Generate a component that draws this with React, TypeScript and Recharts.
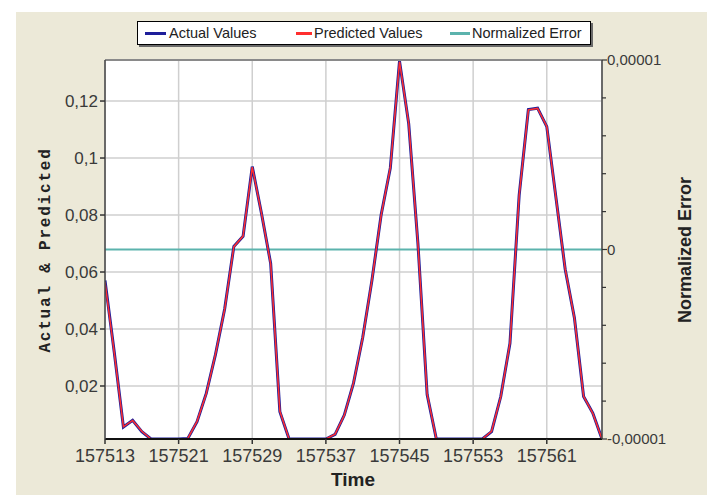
import React from 'react';
import { ComposedChart, Line, XAxis, YAxis, CartesianGrid, Legend, ReferenceLine } from 'recharts';

const timeSteps = [
  157513, 157514, 157515, 157516, 157517, 157518, 157519, 157520, 157521, 157522,
  157523, 157524, 157525, 157526, 157527, 157528, 157529, 157530, 157531, 157532,
  157533, 157534, 157535, 157536, 157537, 157538, 157539, 157540, 157541, 157542,
  157543, 157544, 157545, 157546, 157547, 157548, 157549, 157550, 157551, 157552,
  157553, 157554, 157555, 157556, 157557, 157558, 157559, 157560, 157561, 157562,
  157563, 157564, 157565, 157566, 157567,
];

const actualValues = [
  0.057, 0.032, 0.0056, 0.008, 0.004, 0.0014, 0.0014, 0.0014, 0.0014, 0.0016,
  0.0075, 0.0174, 0.031, 0.047, 0.069, 0.0725, 0.097, 0.0806, 0.063, 0.011,
  0.0014, 0.0014, 0.0014, 0.0014, 0.0014, 0.003, 0.0098, 0.021, 0.037, 0.057,
  0.08, 0.0965, 0.134, 0.112, 0.07, 0.017, 0.0014, 0.0014, 0.0014, 0.0014,
  0.0014, 0.0014, 0.004, 0.0163, 0.035, 0.087, 0.117, 0.1175, 0.111, 0.086,
  0.061, 0.044, 0.0163, 0.0105, 0.0014,
];

const predictedValues = [
  0.0565, 0.0318, 0.0057, 0.0079, 0.0041, 0.0014, 0.0014, 0.0014, 0.0014, 0.0016,
  0.0076, 0.0173, 0.0311, 0.0469, 0.0689, 0.0726, 0.0968, 0.0807, 0.0629, 0.0111,
  0.0014, 0.0014, 0.0014, 0.0014, 0.0014, 0.0031, 0.0097, 0.0211, 0.0369, 0.0571,
  0.0799, 0.0966, 0.1338, 0.1121, 0.0699, 0.0171, 0.0014, 0.0014, 0.0014, 0.0014,
  0.0014, 0.0014, 0.0041, 0.0162, 0.0351, 0.0869, 0.1169, 0.1174, 0.1111, 0.0859,
  0.0611, 0.0439, 0.0164, 0.0104, 0.0014,
];

const normalizedError = [
  0, 0, 0, 0, 0, 0, 0, 0, 0, 0,
  0, 0, 0, 0, 0, 0, 0, 0, 0, 0,
  0, 0, 0, 0, 0, 0, 0, 0, 0, 0,
  0, 0, 0, 0, 0, 0, 0, 0, 0, 0,
  0, 0, 0, 0, 0, 0, 0, 0, 0, 0,
  0, 0, 0, 0, 0,
];

const xTicks = [157513, 157521, 157529, 157537, 157545, 157553, 157561];
const leftTicks = [0.02, 0.04, 0.06, 0.08, 0.1, 0.12];
const rightTicks = [
  -0.00001, -0.000008, -0.000006, -0.000004, -0.000002, 0,
  0.000002, 0.000004, 0.000006, 0.000008, 0.00001,
];
const rightMajorTicks = [-0.00001, 0, 0.00001];

const leftDomain: [number, number] = [0.0014, 0.1344];
const rightDomain: [number, number] = [-0.00001, 0.00001];
const xDomain: [number, number] = [157513, 157567];

const seriesNames = ['Actual Values', 'Predicted Values', 'Normalized Error'];
const seriesColors = ['#1e1e9a', '#ff2e2e', '#5cb3ad'];

const data = timeSteps.map((t, i) => ({
  time: t,
  actual: actualValues[i],
  predicted: predictedValues[i],
  error: normalizedError[i],
}));

const fmt = (v: number) => String(v).replace('.', ',');

const FONT = 'Arial, "Liberation Sans", sans-serif';

const LeftTick = (props: any) => {
  const { x, y, payload } = props;
  return (
    <g>
      <line x1={x - 5} x2={x} y1={y} y2={y} stroke="#333" strokeWidth={1.5} />
      <text x={x - 7} y={y} dy="0.36em" textAnchor="end" fontSize={17} fill="#3a3a3a" fontFamily={FONT}>
        {fmt(payload.value)}
      </text>
    </g>
  );
};

const RightTick = (props: any) => {
  const { x, y, payload } = props;
  const major = rightMajorTicks.some((m) => Math.abs(m - payload.value) < 1e-9);
  return (
    <g>
      <line x1={x} x2={x + (major ? 5 : 4)} y1={y} y2={y} stroke="#333" strokeWidth={1.2} />
      {major && (
        <text x={x + 5} y={y} dy="0.36em" textAnchor="start" fontSize={15} fill="#3a3a3a" fontFamily={FONT}>
          {Math.abs(payload.value) < 1e-12 ? '0' : fmt(payload.value)}
        </text>
      )}
    </g>
  );
};

const BottomTick = (props: any) => {
  const { x, y, payload } = props;
  return (
    <g>
      <line x1={x} x2={x} y1={y} y2={y + 5} stroke="#333" strokeWidth={1.5} />
      <text x={x} y={y + 23} textAnchor="middle" fontSize={18} fill="#3a3a3a" fontFamily={FONT}>
        {payload.value}
      </text>
    </g>
  );
};

const LegendBox = () => {
  const iconX = [7, 158, 312];
  const iconW = [21, 16, 20];
  const textX = [31, 176, 334];
  return (
    <div
      style={{
        position: 'relative',
        width: 454,
        height: 24,
        boxSizing: 'border-box',
        border: '1px solid #000',
        background: '#fff',
        boxShadow: '2px 2px 0 #6a6a6a',
        fontFamily: FONT,
        fontSize: 14.5,
        color: '#222',
      }}
    >
      {seriesNames.map((name, i) => (
        <React.Fragment key={name}>
          <div
            style={{
              position: 'absolute',
              left: iconX[i],
              top: 10,
              width: iconW[i],
              height: 3,
              background: seriesColors[i],
            }}
          />
          <div style={{ position: 'absolute', left: textX[i], top: 2, whiteSpace: 'nowrap', lineHeight: '18px' }}>
            {name}
          </div>
        </React.Fragment>
      ))}
    </div>
  );
};

export default function App() {
  return (
    <div style={{ position: 'absolute', left: 0, top: 0, width: 707, height: 495, background: '#fff', overflow: 'hidden' }}>
      <div style={{ position: 'absolute', left: 16, top: 12, width: 691, height: 483, background: '#ece9d8' }} />
      <div style={{ position: 'absolute', left: 0, top: 0 }}>
        <ComposedChart
          width={707}
          height={495}
          data={data}
          margin={{ top: 60, right: 45, bottom: 26, left: 45 }}
        >
          <CartesianGrid
            yAxisId="left"
            stroke="#cfcfcf"
            strokeWidth={1.5}
            fill="#ffffff"
            fillOpacity={1}
          />
          <XAxis
            dataKey="time"
            type="number"
            domain={xDomain}
            ticks={xTicks}
            allowDataOverflow
            height={30}
            tickLine={false}
            tickSize={0}
            tickMargin={0}
            axisLine={{ stroke: '#111', strokeWidth: 2 }}
            tick={<BottomTick />}
            interval={0}
          />
          <YAxis
            yAxisId="left"
            orientation="left"
            type="number"
            domain={leftDomain}
            ticks={leftTicks}
            allowDataOverflow
            width={60}
            tickLine={false}
            tickSize={0}
            tickMargin={0}
            axisLine={{ stroke: '#444', strokeWidth: 1.5 }}
            tick={<LeftTick />}
            interval={0}
          />
          <YAxis
            yAxisId="right"
            orientation="right"
            type="number"
            domain={rightDomain}
            ticks={rightTicks}
            allowDataOverflow
            width={60}
            tickLine={false}
            tickSize={0}
            tickMargin={0}
            axisLine={{ stroke: '#444', strokeWidth: 1.5 }}
            tick={<RightTick />}
            interval={0}
          />
          <ReferenceLine yAxisId="left" y={leftDomain[1]} stroke="#8a8a8a" strokeWidth={2} />
          <Legend
            layout="horizontal"
            verticalAlign="middle"
            align="center"
            wrapperStyle={{ position: 'absolute', top: 21, left: 137, width: 456, height: 26 }}
            content={() => <LegendBox />}
          />
          <Line
            yAxisId="right"
            type="linear"
            dataKey="error"
            name="Normalized Error"
            stroke={seriesColors[2]}
            strokeWidth={2}
            dot={false}
            activeDot={false}
            isAnimationActive={false}
          />
          <Line
            yAxisId="left"
            type="linear"
            dataKey="actual"
            name="Actual Values"
            stroke={seriesColors[0]}
            strokeWidth={3}
            dot={false}
            activeDot={false}
            isAnimationActive={false}
          />
          <Line
            yAxisId="left"
            type="linear"
            dataKey="predicted"
            name="Predicted Values"
            stroke={seriesColors[1]}
            strokeWidth={1.5}
            dot={false}
            activeDot={false}
            isAnimationActive={false}
          />
          <text
            x={46}
            y={250}
            transform="rotate(-90 46 250)"
            textAnchor="middle"
            dominantBaseline="central"
            fontFamily='"Liberation Mono", "Courier New", monospace'
            fontWeight="bold"
            fontSize={16}
            letterSpacing={1.8}
            fill="#222"
          >
            Actual &amp; Predicted
          </text>
          <text
            x={685}
            y={250}
            transform="rotate(-90 685 250)"
            textAnchor="middle"
            dominantBaseline="central"
            fontFamily={FONT}
            fontWeight="bold"
            fontSize={18}
            fill="#222"
          >
            Normalized Error
          </text>
          <text x={353} y={486} textAnchor="middle" fontFamily={FONT} fontWeight="bold" fontSize={19} fill="#222">
            Time
          </text>
        </ComposedChart>
      </div>
    </div>
  );
}
